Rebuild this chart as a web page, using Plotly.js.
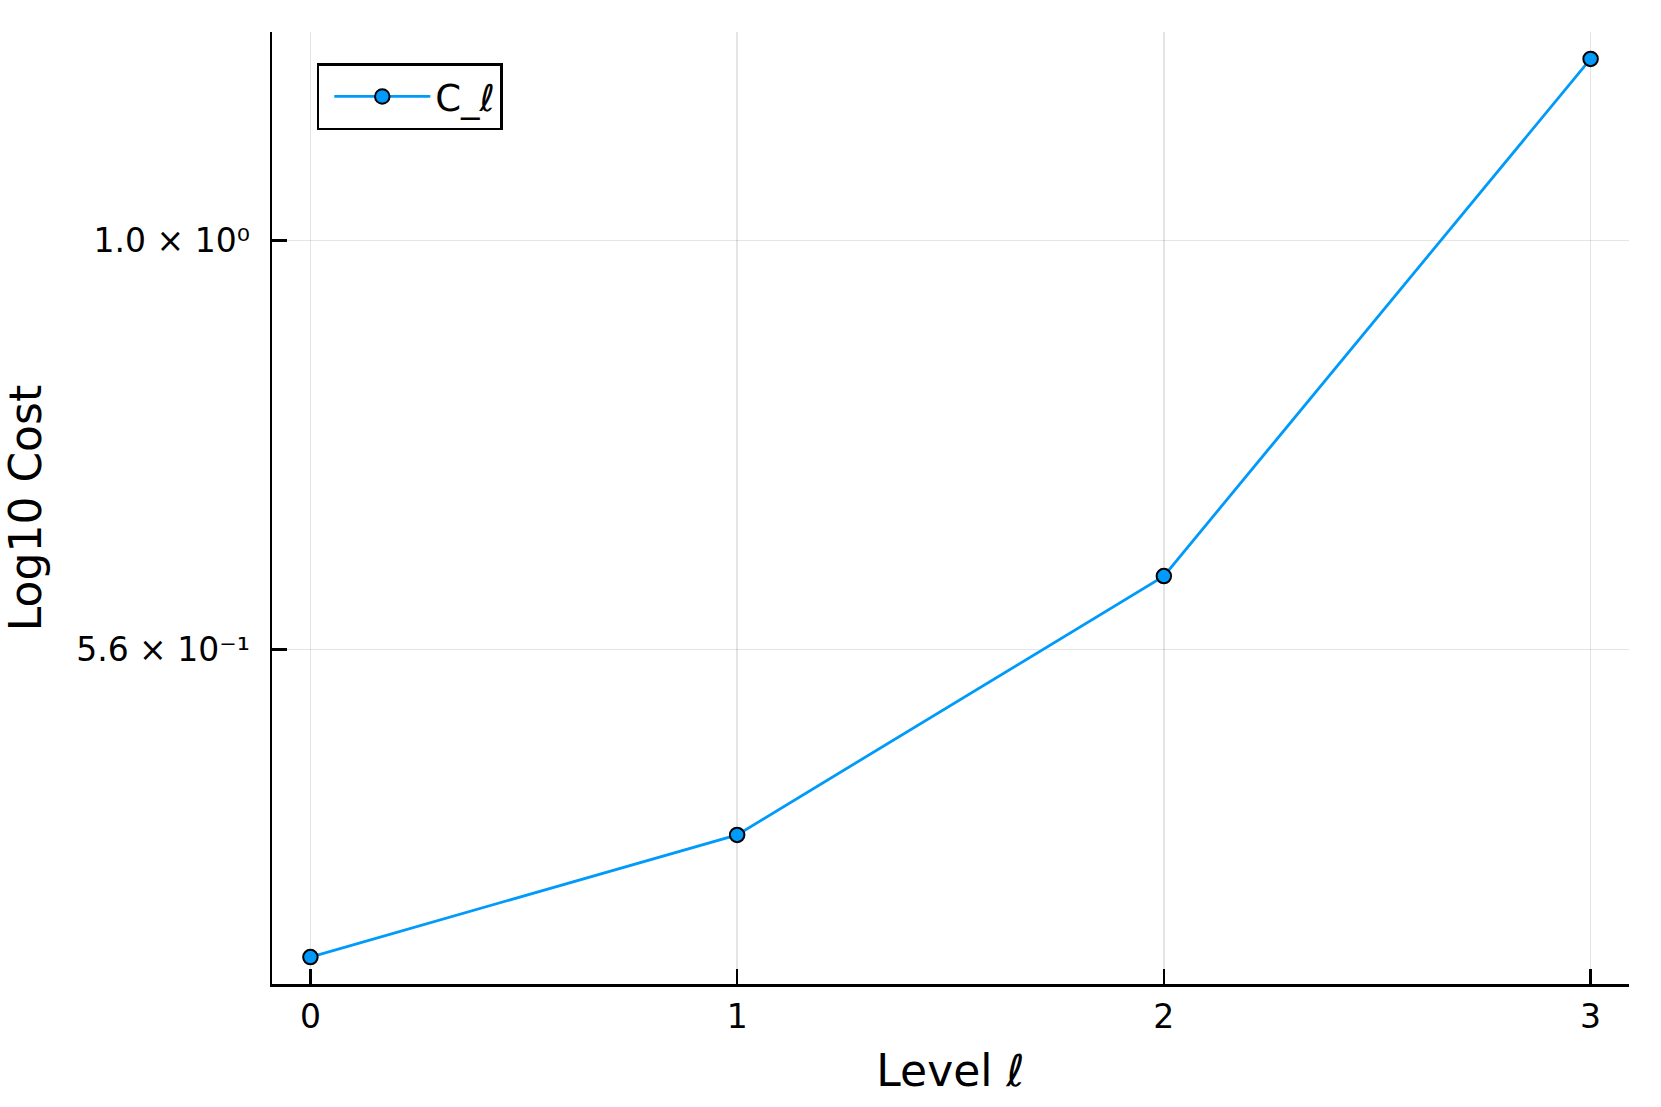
<!DOCTYPE html>
<html>
<head>
<meta charset="utf-8">
<script src="https://cdn.plot.ly/plotly-3.0.1.min.js"></script>
<style>
  html, body { margin: 0; padding: 0; background: #ffffff; }
  #chart { width: 1661px; height: 1107px; }
</style>
</head>
<body>
<div id="chart"></div>
<script>
// ---- data ----
const levels = [0, 1, 2, 3];
const cost = [0.3622, 0.4307, 0.6216, 1.2940];
const seriesName = "C_\u2113";
const yTickVals = [0.56, 1.0];
const yTickText = ["5.6 \u00d7 10\u207b\u00b9", "1.0 \u00d7 10\u2070"];
const xTickVals = [0, 1, 2, 3];
const xTickText = ["0", "1", "2", "3"];
const xTitle = "Level \u2113";
const yTitle = "Log10 Cost";

// ---- ranges (Plots.jl style 3% widening) ----
const xMin = Math.min(...levels), xMax = Math.max(...levels);
const xPad = 0.03 * (xMax - xMin);
const logs = cost.map(v => Math.log10(v));
const lMin = Math.min(...logs), lMax = Math.max(...logs);
const lPad = 0.03 * (lMax - lMin);

const FONT = "DejaVu Sans, sans-serif";
const BLUE = "#009AFA";

const trace = {
  x: levels,
  y: cost,
  type: "scatter",
  mode: "lines+markers",
  name: seriesName,
  line: { color: BLUE, width: 2.8 },
  marker: { color: BLUE, size: 14.5, symbol: "circle", line: { color: "#000000", width: 2 } },
  hoverinfo: "x+y"
};

const axisCommon = {
  showline: true,
  linecolor: "#000000",
  linewidth: 2.5,
  mirror: false,
  ticks: "inside",
  ticklen: 15,
  tickwidth: 2.5,
  tickcolor: "#000000",
  showgrid: true,
  gridcolor: "rgba(0,0,0,0.1)",
  gridwidth: 1.4,
  zeroline: false,
  automargin: false,
  tickfont: { family: FONT, size: 33, color: "#000000" }
};

const layout = {
  width: 1661,
  height: 1107,
  paper_bgcolor: "#ffffff",
  plot_bgcolor: "#ffffff",
  margin: { l: 272, r: 32, t: 32, b: 122.5 },
  showlegend: true,
  font: { family: FONT, color: "#000000" },
  xaxis: Object.assign({}, axisCommon, {
    range: [xMin - xPad, xMax + xPad],
    tickmode: "array",
    tickvals: xTickVals,
    ticktext: xTickText,
    ticklabelstandoff: 2,
    title: { text: xTitle, font: { family: FONT, size: 44, color: "#000000" }, standoff: 20 }
  }),
  yaxis: Object.assign({}, axisCommon, {
    type: "log",
    range: [lMin - lPad, lMax + lPad],
    tickmode: "array",
    tickvals: yTickVals,
    ticktext: yTickText,
    ticklabelstandoff: 13,
    title: { text: yTitle, font: { family: FONT, size: 44, color: "#000000" }, standoff: 31 }
  }),
  legend: {
    x: 0.033,
    y: 0.967,
    xanchor: "left",
    yanchor: "top",
    bgcolor: "#ffffff",
    bordercolor: "#000000",
    borderwidth: 2.5,
    font: { family: FONT, size: 37, color: "#000000" },
    itemwidth: 96,
    indentation: 10
  }
};

Plotly.newPlot("chart", [trace], layout, { displayModeBar: false, staticPlot: true });
</script>
</body>
</html>
